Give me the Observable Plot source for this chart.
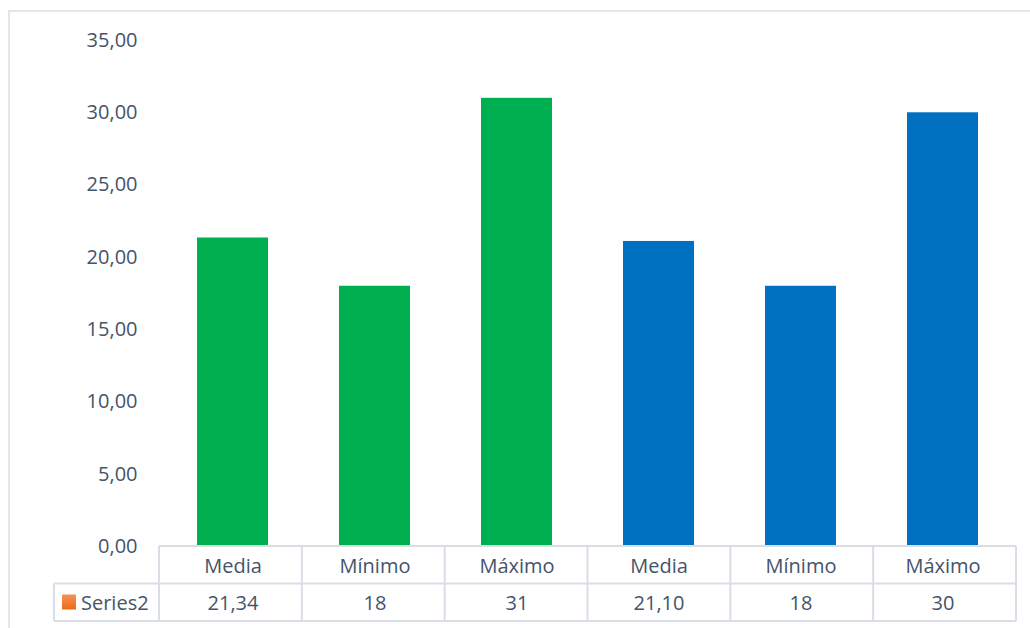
<!DOCTYPE html>
<html><head><meta charset="utf-8">
<script src="https://cdn.jsdelivr.net/npm/d3@7"></script>
<script src="https://cdn.jsdelivr.net/npm/@observablehq/plot@0.6"></script>
<style>
html,body{margin:0;padding:0;background:#fff;}
#chart{position:relative;width:1030px;height:628px;}
</style>
</head><body><div id="chart"></div>
<script>
const categories = ["Media", "Mínimo", "Máximo", "Media", "Mínimo", "Máximo"];
const values = [21.34, 18, 31, 21.10, 18, 30];
const tableLabels = ["21,34", "18", "31", "21,10", "18", "30"];
const groups = ["A", "A", "A", "B", "B", "B"];
const seriesName = "Series2";
const yTicks = [0, 5, 10, 15, 20, 25, 30, 35];

const data = categories.map((c, i) => ({i, cat: c, v: values[i], g: groups[i], lab: tableLabels[i]}));
const fmt = d => d3.format(".2f")(d).replace(".", ",");
const font = "'Open Sans', 'Noto Sans', sans-serif";
const fs = 20;
const textColor = "#44546A";
const gridColor = "#D9DDE5";

const plot = Plot.plot({
  width: 1030, height: 628,
  marginLeft: 159, marginRight: 14, marginTop: 40, marginBottom: 82,
  style: {fontFamily: font, fontSize: fs + "px", color: textColor, background: "white"},
  x: {domain: d3.range(6), paddingInner: 0.5, paddingOuter: 0.25, axis: null},
  y: {domain: [0, 35], ticks: yTicks, label: null},
  color: {domain: ["A", "B"], range: ["#00B050", "#0070C0"]},
  marks: [
    Plot.gridY(yTicks, {stroke: gridColor, strokeOpacity: 1, strokeWidth: 2, x1: 159, x2: 1016}),
    Plot.axisY(yTicks, {tickSize: 0, tickPadding: 22, tickFormat: fmt, fill: textColor, fontSize: fs, label: null}),
    Plot.barY(data, {x: "i", y: "v", fill: "g"}),
    Plot.text(data, {x: "i", y: 0, text: "cat", dy: 20, fill: textColor, fontSize: fs}),
    Plot.text(data, {x: "i", y: 0, text: "lab", dy: 57, fill: textColor, fontSize: fs})
  ]
});
document.getElementById("chart").appendChild(plot);

// table grid & frame, positioned through the plot's scales
const svg = d3.select(plot);
const xs = plot.scale("x");
const ys = plot.scale("y");
const left = xs.range[0], right = xs.range[1];
const y0 = ys.apply(0);
const rowH = 37.5;
const g = svg.append("g").attr("stroke", gridColor).attr("stroke-width", 2).attr("fill", "none");
// outer chart frame
g.append("path").attr("d", `M9,628 V11 H1030`).attr("stroke", "#E3E6EC");
g.append("line").attr("x1", left).attr("x2", right).attr("y1", y0).attr("y2", y0);
g.append("line").attr("x1", 54).attr("x2", right).attr("y1", y0 + rowH).attr("y2", y0 + rowH);
g.append("line").attr("x1", 54).attr("x2", right).attr("y1", y0 + 2*rowH).attr("y2", y0 + 2*rowH);
g.append("line").attr("x1", 54).attr("x2", 54).attr("y1", y0 + rowH).attr("y2", y0 + 2*rowH);
for (let k = 0; k <= 6; k++) {
  const x = left + (right-left) * k / 6;
  g.append("line").attr("x1", x).attr("x2", x).attr("y1", y0).attr("y2", y0 + 2*rowH);
}
// legend key
const defs = svg.append("defs");
const grad = defs.append("linearGradient").attr("id", "og").attr("x1", 0).attr("y1", 0).attr("x2", 0).attr("y2", 1);
grad.append("stop").attr("offset", "0%").attr("stop-color", "#F49354");
grad.append("stop").attr("offset", "100%").attr("stop-color", "#EC6A1C");
svg.append("rect").attr("x", 62).attr("y", y0 + rowH + 11).attr("width", 14).attr("height", 15).attr("fill", "url(#og)");
svg.append("text").attr("x", 81).attr("y", y0 + rowH + 19).attr("dy", "0.36em")
  .attr("text-anchor", "start")
  .attr("font-family", font).attr("font-size", fs).attr("fill", textColor).text(seriesName);
</script>
</body></html>
